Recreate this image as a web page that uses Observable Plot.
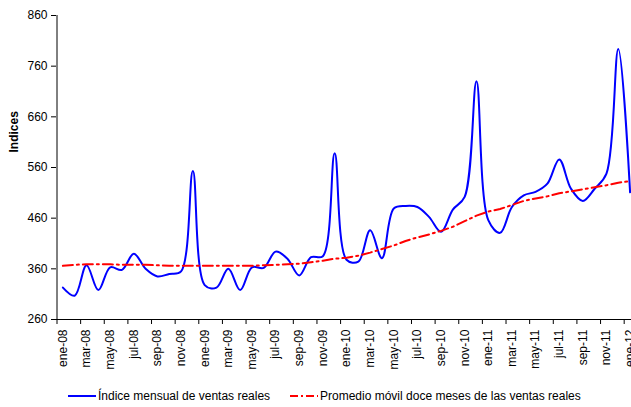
<!DOCTYPE html>
<html>
<head>
<meta charset="utf-8">
<script src="https://cdn.jsdelivr.net/npm/d3@7"></script>
<script src="https://cdn.jsdelivr.net/npm/@observablehq/plot@0.6"></script>
<style>
  html, body { margin: 0; padding: 0; background: #fff; overflow: hidden; }
  #wrap { position: relative; width: 631px; height: 407px; font-family: "Liberation Sans", Arial, sans-serif; }
  #legend { position: absolute; left: 0; top: 385px; width: 631px; height: 22px; font-size: 12px; color: #000; }
  .item { position: absolute; top: 0; height: 22px; line-height: 22px; white-space: nowrap; }
  .item svg { position: absolute; top: 0; left: 0; }
</style>
</head>
<body>
<div id="wrap">
  <div id="chart"></div>
  <div id="legend"></div>
</div>
<script>
// Monthly periods (ene-08 .. ene-12)
const periods = [
  "ene-08","feb-08","mar-08","abr-08","may-08","jun-08","jul-08","ago-08","sep-08","oct-08","nov-08","dic-08",
  "ene-09","feb-09","mar-09","abr-09","may-09","jun-09","jul-09","ago-09","sep-09","oct-09","nov-09","dic-09",
  "ene-10","feb-10","mar-10","abr-10","may-10","jun-10","jul-10","ago-10","sep-10","oct-10","nov-10","dic-10",
  "ene-11","feb-11","mar-11","abr-11","may-11","jun-11","jul-11","ago-11","sep-11","oct-11","nov-11","dic-11",
  "ene-12"
];
// Índice mensual de ventas reales
const indiceMensual = [
  323, 307, 367, 318, 363, 358, 390, 360, 345, 350, 355, 553,
  328, 323, 360, 318, 363, 362, 394, 380, 347, 383, 385, 588,
  378, 374, 436, 381, 479, 484, 482, 462, 433, 477, 502, 730,
  456, 431, 482, 505, 512, 528, 576, 518, 494, 518, 548, 794,
  511
];
// Promedio móvil doce meses
const promedioMovil = [
  366, 368, 369, 369, 369, 368, 368, 368, 367, 366, 366, 366,
  366, 366, 366, 366, 366, 367, 368, 369, 370, 373, 376, 380,
  382, 386, 392, 399, 406, 415, 422, 428, 435, 443, 454, 465,
  473, 478, 486, 494, 499, 503, 509, 513, 517, 521, 525, 530,
  533
];
// Tick labels shown on the x axis
const xTickLabels = [
  "ene-08","mar-08","may-08","jul-08","sep-08","nov-08",
  "ene-09","mar-09","may-09","jul-09","sep-09","nov-09",
  "ene-10","mar-10","may-10","jul-10","sep-10","nov-10",
  "ene-11","mar-11","may-11","jul-11","sep-11","nov-11",
  "ene-12"
];
const yTicks = [260, 360, 460, 560, 660, 760, 860];
const seriesNames = ["Índice mensual de ventas reales", "Promedio móvil doce meses de las ventas reales"];
const yTitle = "Indices";

const data = periods.map((p, i) => ({i, period: p, indice: indiceMensual[i], promedio: promedioMovil[i]}));
const labelPos = xTickLabels.map(l => periods.indexOf(l));
const boundaries = labelPos.map(i => i - 0.5);

const chart = Plot.plot({
  width: 631,
  height: 385,
  marginLeft: 56,
  marginRight: 0,
  marginTop: 15,
  marginBottom: 66,
  style: {fontFamily: "'Liberation Sans', Arial, sans-serif", fontSize: "12px", color: "#000", background: "#fff", overflow: "hidden"},
  x: {type: "linear", domain: [-0.5, periods.length - 0.5], range: [56.5, 635.5]},
  y: {domain: [260, 860]},
  marks: [
    Plot.axisY({ticks: yTicks, tickSize: 5, tickPadding: 4, label: null, tickFormat: d => String(d), fontSize: 12}),
    Plot.axisX({ticks: boundaries, tickSize: 5, tickFormat: () => "", label: null}),
    Plot.axisX({ticks: labelPos, tickSize: 0, tickPadding: 10, tickRotate: -90, label: null,
                tickFormat: i => periods[i], fontSize: 12}),
    Plot.ruleY([260], {stroke: "#000"}),
    Plot.ruleX([-0.5], {stroke: "#000"}),
    Plot.line(data, {x: "i", y: "indice", stroke: "#0000FF", strokeWidth: 2, curve: "catmull-rom"}),
    Plot.line(data, {x: "i", y: "promedio", stroke: "#FF0000", strokeWidth: 2, strokeDasharray: "10,4,2,4"}),
    Plot.text([yTitle], {frameAnchor: "left", dx: -42, dy: -15, rotate: -90, fontWeight: "bold", fontSize: 12})
  ]
});
document.getElementById("chart").appendChild(chart);

// Legend
const legend = document.getElementById("legend");
const items = [
  {name: seriesNames[0], color: "#0000FF", dash: null, left: 68},
  {name: seriesNames[1], color: "#FF0000", dash: "8,3,2,3", left: 290}
];
items.forEach(it => {
  const div = document.createElement("div");
  div.className = "item";
  div.style.left = it.left + "px";
  div.style.paddingLeft = "30px";
  div.innerHTML = `<svg width="28" height="22"><line x1="0" x2="28" y1="11" y2="11" stroke="${it.color}" stroke-width="2" ${it.dash ? `stroke-dasharray="${it.dash}"` : ""}/></svg>`;
  div.appendChild(document.createTextNode(it.name));
  legend.appendChild(div);
});
</script>
</body>
</html>
